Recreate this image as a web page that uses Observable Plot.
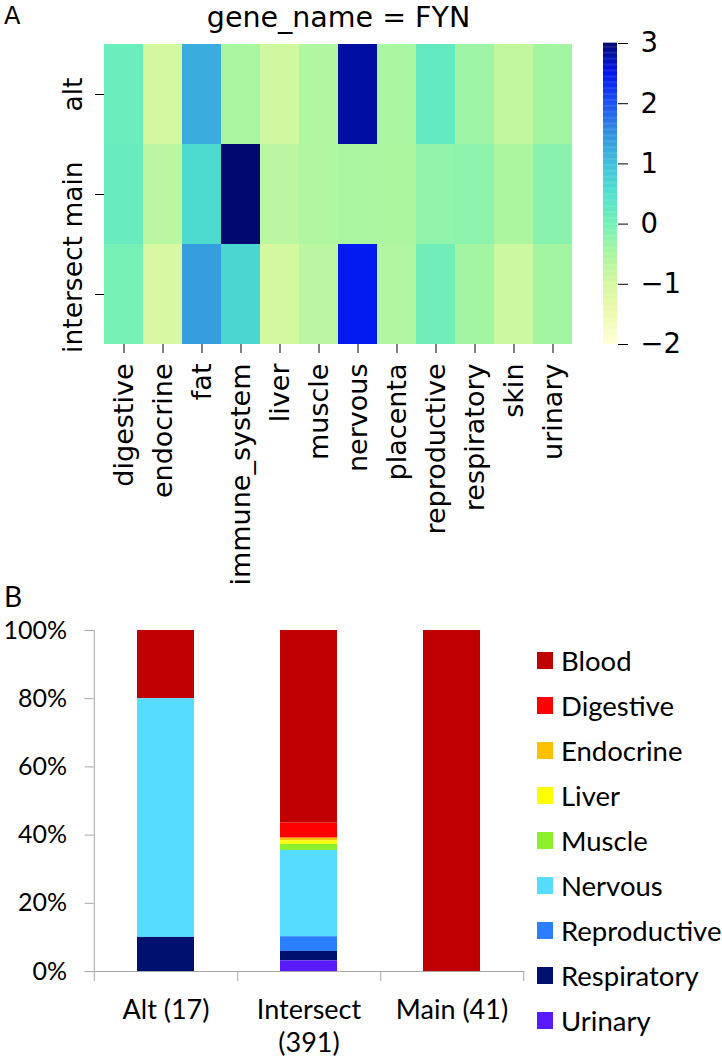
<!DOCTYPE html>
<html>
<head>
<meta charset="utf-8">
<script src="https://cdn.jsdelivr.net/npm/d3@7"></script>
<script src="https://cdn.jsdelivr.net/npm/@observablehq/plot@0.6"></script>
<style>
  html, body { margin: 0; padding: 0; background: #fff; }
  #root { position: relative; width: 722px; height: 1061px; overflow: hidden; background: #fff; }
  .abs { position: absolute; }
  .tl-swatches { font-family: Lato, sans-serif !important; font-size: 27.5px !important; margin: 0 !important; color: #000; }
  .tl-swatch { height: 45px !important; padding-bottom: 0 !important; margin: 0 !important; display: flex !important; align-items: center !important; }
  .tl-swatch svg { margin-right: 8px !important; }
</style>
</head>
<body>
<div id="root">
  <div id="heat" class="abs" style="left:0;top:0"></div>
  <div id="cbar" class="abs" style="left:590px;top:0"></div>
  <div id="bars" class="abs" style="left:0;top:590px"></div>
  <div id="legend" class="abs" style="left:537px;top:638px"></div>
  <svg class="abs" style="left:0;top:0;pointer-events:none" width="722" height="1061">
    <text x="4" y="24" font-family="DejaVu Sans" font-size="24">A</text>
    <text x="4" y="607" font-family="Lato" font-size="28">B</text>
  </svg>
</div>
<script>
// ---------- Panel A data ----------
const tissueColumns = ["digestive","endocrine","fat","immune_system","liver","muscle","nervous","placenta","reproductive","respiratory","skin","urinary"];
const heatRows = ["alt","main","intersect"];
const altValues       = [0.10, -1.00, 1.20, -0.50, -0.95, -0.60, 2.80, -0.50, 0.20, -0.40, -0.80, -0.45];
const mainValues      = [0.15, -0.70, 0.60,  3.00, -0.70, -0.60, -0.50, -0.55, -0.30, -0.25, -0.55, -0.20];
const intersectValues = [-0.05, -1.10, 1.35, 0.65, -1.00, -0.70, 2.45, -0.60, 0.05, -0.45, -0.90, -0.45];
const colorStops = [-2, -1.5, -1, -0.5, 0, 0.5, 1, 1.5, 2, 2.5, 3];
const colorRange = ["#ffffd9","#eefaae","#d4f8a0","#a8f6a0","#72f0b8","#50e0cc","#40c0dc","#3090e0","#1c50f0","#0014f0","#000a6e"];
const colorTicks = [-2, -1, 0, 1, 2, 3];
const heatTitle = "gene_name = FYN";

// ---------- Panel B data ----------
const groupLabels = ["Alt (17)", "Intersect\n(391)", "Main (41)"];
const tissues = ["Blood","Digestive","Endocrine","Liver","Muscle","Nervous","Reproductive","Respiratory","Urinary"];
const tissueColors = ["#c00000","#ff0000","#ffc000","#ffff00","#8cf02c","#55dcff","#2a7fff","#00106e","#5a1aff"];
const altPct       = [20, 0, 0, 0, 0, 70, 0, 10, 0];
const intersectPct = [56.5, 4.4, 0.8, 1.0, 1.8, 25.3, 4.3, 2.8, 3.1];
const mainPct      = [100, 0, 0, 0, 0, 0, 0, 0, 0];
const yTicksPct = [0, 0.2, 0.4, 0.6, 0.8, 1];

// ---------- build tables ----------
const rowValues = [altValues, mainValues, intersectValues];
const heat = heatRows.flatMap((r, i) => rowValues[i].map((v, j) => ({row: r, col: tissueColumns[j], value: v})));
const colorScale = {type: "linear", domain: colorStops, range: colorRange, interpolate: "rgb", clamp: true};

const heatPlot = Plot.plot({
  width: 722, height: 590,
  marginLeft: 104, marginRight: 150, marginTop: 43, marginBottom: 246,
  style: {fontFamily: "DejaVu Sans", fontSize: "26px", background: "transparent", color: "#000"},
  x: {domain: tissueColumns, padding: 0, label: null},
  y: {domain: heatRows, padding: 0, label: null},
  color: colorScale,
  marks: [
    Plot.cell(heat, {x: "col", y: "row", fill: "value"}),
    Plot.axisX({tickRotate: -90, tickSize: 9, tickPadding: 10, fontSize: 27, label: null}),
    Plot.axisY({tickRotate: -90, tickSize: 9, tickPadding: 14, fontSize: 26.5, label: null}),
    Plot.text([heatTitle], {frameAnchor: "top", lineAnchor: "bottom", dy: -17, fontSize: 28.5, text: d => d})
  ]
});
document.getElementById("heat").appendChild(heatPlot);

// colorbar
const step = 0.02;
const grad = d3.range(colorStops[0], colorStops[colorStops.length - 1], step).map(v => ({y1: v, y2: v + step * 1.3, v}));
const cbPlot = Plot.plot({
  width: 132, height: 590,
  marginLeft: 13, marginRight: 105, marginTop: 43, marginBottom: 246,
  style: {fontFamily: "DejaVu Sans", fontSize: "26px", background: "transparent", color: "#000"},
  y: {domain: [colorStops[0], colorStops[colorStops.length - 1]], label: null},
  color: colorScale,
  marks: [
    Plot.rectY(grad, {y1: "y1", y2: "y2", fill: "v"}),
    Plot.axisY({anchor: "right", ticks: colorTicks, tickFormat: d3.format("d"), tickSize: 10, tickPadding: 13, fontSize: 27.5, label: null})
  ]
});
document.getElementById("cbar").appendChild(cbPlot);

// ---------- Panel B ----------
const pctByGroup = [altPct, intersectPct, mainPct];
const stack = groupLabels.flatMap((g, i) => tissues.map((t, j) => ({group: g, tissue: t, pct: pctByGroup[i][j] / 100}))).filter(d => d.pct > 0);
const stackOrder = tissues.slice().reverse();

const bW = 722, bH = 471, bML = 93.6, bMR = 198, bMT = 40, bMB = 90;
const halfStep = (bW - bML - bMR) / groupLabels.length / 2;
const gray = "#a6a6a6";

const barPlot = Plot.plot({
  width: bW, height: bH,
  marginLeft: bML, marginRight: bMR, marginTop: bMT, marginBottom: bMB,
  style: {fontFamily: "Lato", fontSize: "27px", background: "transparent", color: "#000"},
  x: {domain: groupLabels, paddingInner: 0.6, paddingOuter: 0.3, align: 0.5, label: null},
  y: {domain: [0, 1], label: null},
  color: {domain: tissues, range: tissueColors},
  marks: [
    Plot.barY(stack, {x: "group", y: "pct", fill: "tissue", order: stackOrder, offset: "normalize"}),
    Plot.ruleY([0], {stroke: gray, insetLeft: -9}),
    Plot.ruleX([groupLabels[0]], {x: d => d, dx: -halfStep, y1: 0, y2: 1, stroke: gray, insetTop: 10}),
    Plot.ruleX(groupLabels, {x: d => d, dx: halfStep, y1: 0, y2: 0, stroke: gray, insetTop: 10}),
    Plot.axisY({ticks: yTicksPct, tickFormat: d3.format(".0%"), tickSize: 9, tickPadding: 18, stroke: gray, fill: "#000", fontSize: 25, label: null}),
    Plot.axisX({tickSize: 0, tickPadding: 24, fontSize: 27, lineHeight: 1.22, label: null})
  ]
});
document.getElementById("bars").appendChild(barPlot);

const legend = Plot.legend({
  color: {domain: tissues, range: tissueColors},
  legend: "swatches", columns: 1, swatchWidth: 16, swatchHeight: 17, className: "tl"
});
document.getElementById("legend").appendChild(legend);
</script>
</body>
</html>
